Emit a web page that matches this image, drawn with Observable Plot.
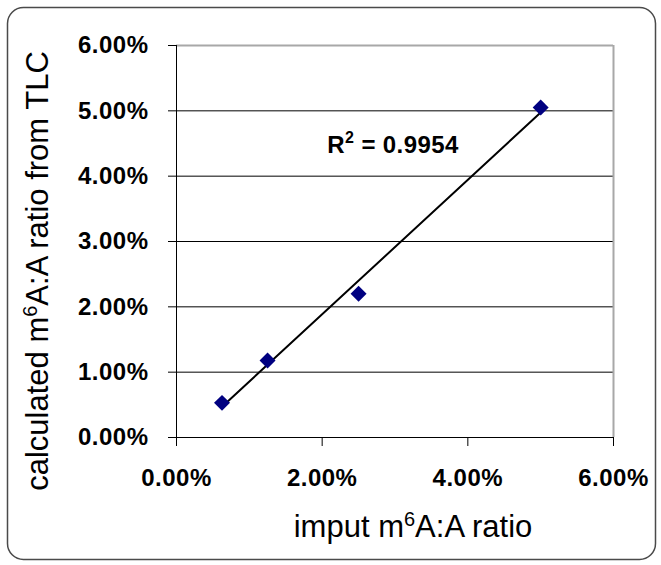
<!DOCTYPE html>
<html>
<head>
<meta charset="utf-8">
<script src="https://cdn.jsdelivr.net/npm/d3@7"></script>
<script src="https://cdn.jsdelivr.net/npm/@observablehq/plot@0.6"></script>
<style>
  html, body { margin: 0; padding: 0; background: white; }
  #chart { width: 661px; height: 565px; }
</style>
</head>
<body>
<div id="chart"></div>
<script>
// ---- data ----
const inputRatio = [0.00625, 0.0125, 0.025, 0.05];      // x: imput m6A:A ratio
const calcRatio  = [0.0053, 0.0118, 0.022, 0.0505];      // y: calculated ratio from TLC
const xTicks = [0, 0.02, 0.04, 0.06];
const yTicks = [0, 0.01, 0.02, 0.03, 0.04, 0.05, 0.06];
const gridY  = [0.01, 0.02, 0.03, 0.04, 0.05];
const r2Parts = ["R", "2", " = 0.9954"];
const r2Pos = {x: 0.0207, y: 0.0447};
const yTitle = ["calculated m", "6", "A:A ratio from TLC"];
const xTitle = ["imput m", "6", "A:A ratio"];

const data = inputRatio.map((x, i) => ({x, y: calcRatio[i]}));
const pct = d3.format(".2%");

const svg = Plot.plot({
  width: 661,
  height: 565,
  marginLeft: 176,
  marginRight: 48,
  marginTop: 45,
  marginBottom: 128,
  x: {domain: [0, 0.06]},
  y: {domain: [0, 0.06]},
  style: {fontFamily: "Arial, 'Liberation Sans', sans-serif", background: "white", color: "black", overflow: "visible"},
  marks: [
    Plot.ruleY(gridY, {stroke: "black", strokeWidth: 1}),
    Plot.ruleY([0.06], {stroke: "#a8a8a8", strokeWidth: 2}),
    Plot.ruleX([0.06], {stroke: "#a8a8a8", strokeWidth: 2}),
    Plot.ruleX([0], {stroke: "black", strokeWidth: 1}),
    Plot.ruleY([0], {stroke: "black", strokeWidth: 1}),
    Plot.axisY({ticks: yTicks, tickFormat: pct, tickSize: 8, tickPadding: 20, fontSize: 24, fontWeight: "bold", label: null}),
    Plot.axisX({ticks: xTicks, tickFormat: pct, tickSize: 9, tickPadding: 22, fontSize: 24, fontWeight: "bold", label: null}),
    Plot.linearRegressionY(data, {x: "x", y: "y", ci: 0, stroke: "black", strokeWidth: 2}),
    Plot.dot(data, {x: "x", y: "y", symbol: "diamond2", r: 7.2, fill: "#000080", stroke: "none"}),
    Plot.text([r2Parts.join("")], {x: () => r2Pos.x, y: () => r2Pos.y, text: d => d, textAnchor: "start", fontSize: 24, fontWeight: "bold", fill: "black"})
  ]
});

document.getElementById("chart").appendChild(svg);

const s = d3.select(svg);
s.selectAll('g[aria-label="y-axis tick label"] text, g[aria-label="x-axis tick label"] text')
  .style("letter-spacing", "0.5px");

// R² label: real superscript via tspans
s.selectAll('g[aria-label="text"] text').each(function () {
  const t = d3.select(this);
  t.text(null).style("letter-spacing", "0.4px");
  t.append("tspan").text(r2Parts[0]);
  t.append("tspan").attr("font-size", 16).attr("dy", -10).text(r2Parts[1]);
  t.append("tspan").attr("font-size", 24).attr("dy", 10).text(r2Parts[2]);
});

// outer rounded frame
s.append("rect")
  .attr("x", 7.5).attr("y", 7.5).attr("width", 648).attr("height", 552)
  .attr("rx", 16).attr("ry", 16)
  .attr("fill", "none").attr("stroke", "#4a4a4a").attr("stroke-width", 1.5);

function titleText(parts, transform) {
  const t = s.append("text")
    .attr("transform", transform)
    .attr("text-anchor", "middle")
    .attr("font-size", 31)
    .attr("fill", "black")
    .attr("font-family", "Arial, 'Liberation Sans', sans-serif");
  t.append("tspan").text(parts[0]);
  t.append("tspan").attr("font-size", 20).attr("dy", -11).text(parts[1]);
  t.append("tspan").attr("font-size", 31).attr("dy", 11).text(parts[2]);
  return t;
}
titleText(yTitle, "translate(48,271) rotate(-90)");
titleText(xTitle, "translate(413,537)");
</script>
</body>
</html>
